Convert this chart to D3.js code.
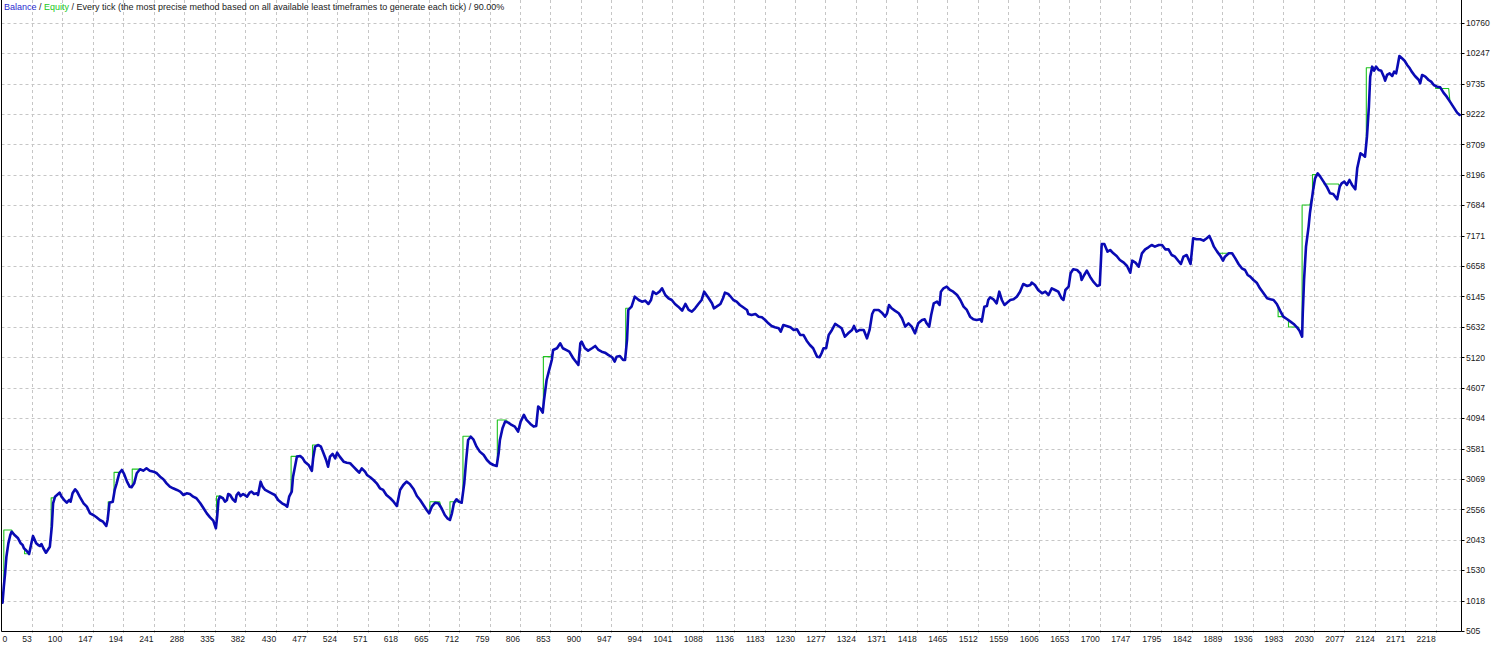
<!DOCTYPE html>
<html><head><meta charset="utf-8">
<script src="https://cdn.jsdelivr.net/npm/d3@7"></script>
<style>
html,body{margin:0;padding:0;background:#fff;overflow:hidden;}
svg{display:block;font-family:"Liberation Sans",Arial,sans-serif;}
</style></head><body>
<svg id="chart" width="1500" height="647"></svg>
<script>
// ---------------- DATA ----------------
const xTickLabels = [0,53,100,147,194,241,288,335,382,430,477,524,571,618,665,712,759,806,853,900,947,994,1041,1088,1136,1183,1230,1277,1324,1371,1418,1465,1512,1559,1606,1653,1700,1747,1795,1842,1889,1936,1983,2030,2077,2124,2171,2218];
const yTickLabels = [505,1018,1530,2043,2556,3069,3581,4094,4607,5120,5632,6145,6658,7171,7684,8196,8709,9222,9735,10247,10760];

const legendParts = [
  {text:"Balance", role:"balance"},
  {text:" / ", role:"plain"},
  {text:"Equity", role:"equity"},
  {text:" / Every tick (the most precise method based on all available least timeframes to generate each tick) / 90.00%", role:"plain"}
];

// balance: [trade number, balance]
const balance = [
[8,983],[10,1253],[12,1479],[14,1759],[17,1984],[20,2125],[22,2180],[27,2120],[32,2069],[36,1984],[39,1956],[41,1901],[45,1860],[49,1804],[53,2011],[55,2108],[60,1984],[63,1956],[66,1939],[68,1973],[71,1901],[75,1826],[79,1894],[81,1928],[84,2265],[86,2659],[89,2771],[92,2799],[96,2838],[99,2771],[104,2703],[107,2669],[111,2715],[113,2686],[116,2828],[120,2896],[123,2856],[127,2771],[133,2659],[138,2602],[143,2490],[148,2462],[153,2424],[158,2378],[163,2349],[168,2277],[170,2378],[173,2669],[178,2686],[181,2884],[184,2996],[188,3165],[192,3221],[195,3165],[200,3024],[204,2940],[207,2930],[211,2996],[215,3165],[220,3233],[225,3209],[230,3249],[235,3209],[241,3192],[246,3165],[251,3108],[256,3064],[261,2996],[266,2940],[271,2912],[277,2884],[282,2856],[287,2799],[292,2828],[297,2816],[302,2771],[307,2744],[313,2659],[318,2575],[323,2490],[328,2423],[333,2366],[337,2238],[339,2433],[341,2715],[343,2771],[348,2744],[351,2686],[354,2715],[356,2816],[359,2799],[363,2727],[367,2686],[369,2799],[372,2838],[375,2782],[379,2816],[385,2771],[389,2838],[392,2856],[396,2816],[400,2828],[402,2799],[406,3024],[409,2940],[413,2884],[418,2856],[423,2828],[428,2799],[433,2715],[439,2659],[444,2631],[447,2602],[450,2771],[454,2856],[456,3108],[462,3446],[467,3457],[471,3418],[474,3361],[480,3305],[485,3204],[487,3418],[490,3614],[495,3642],[499,3614],[503,3502],[507,3389],[510,3276],[513,3446],[517,3491],[521,3418],[524,3513],[528,3446],[534,3361],[539,3344],[544,3334],[549,3277],[554,3221],[558,3175],[562,3249],[567,3192],
[570,3137],[575,3098],[580,3052],[585,2996],[590,2912],[595,2884],[600,2799],[606,2744],[611,2686],[616,2614],[618,2715],[621,2884],[626,2968],[631,3024],[636,2985],[642,2895],[647,2782],[652,2715],[657,2631],[662,2546],[666,2490],[670,2602],[675,2669],[680,2659],[685,2575],[690,2462],[694,2406],[698,2378],[701,2490],[704,2659],[708,2727],[712,2686],[716,2669],[720,2996],[723,3389],[726,3727],[730,3782],[734,3738],[739,3614],[744,3530],[750,3474],[755,3389],[760,3334],[765,3305],[770,3288],[773,3502],[775,3727],[779,3924],[783,4036],[788,4019],[793,3980],[798,3952],[803,3867],[807,4036],[812,4149],[816,4064],[822,3997],[827,3952],[831,3963],[834,4289],[837,4261],[841,4187],[843,4401],[847,4738],[851,4907],[855,5075],[857,5244],[863,5273],[868,5357],[872,5273],[877,5244],[882,5215],[888,5104],[894,5019],[896,4991],[899,5357],[901,5384],[906,5273],[911,5232],[917,5273],[922,5311],[927,5244],[932,5215],[937,5198],[942,5160],[948,5121],[952,5047],[955,5131],[960,5143],[965,5075],[968,5075],[971,5412],[973,5918],[978,5974],[983,6143],[989,6086],[994,6058],[999,6075],[1004,6019],[1008,6086],[1011,6226],[1016,6188],[1021,6226],[1025,6283],[1030,6170],[1035,6115],[1040,6086],[1045,6019],[1050,5974],[1056,5906],[1061,6019],[1066,5918],[1071,5889],[1076,5946],[1081,6019],[1086,6086],[1090,6226],[1097,6115],[1102,6030],[1105,5946],[1109,5974],[1115,6019],[1119,6115],[1122,6210],[1127,6188],
[1130,6153],[1135,6086],[1140,6058],[1145,6002],[1150,5963],[1156,5918],[1158,5850],[1163,5833],[1169,5850],[1174,5805],[1179,5794],[1184,5749],[1189,5693],[1194,5648],[1199,5626],[1205,5609],[1208,5552],[1212,5665],[1217,5648],[1223,5626],[1228,5581],[1233,5593],[1238,5497],[1243,5497],[1248,5400],[1253,5328],[1258,5273],[1264,5131],[1268,5121],[1271,5188],[1274,5273],[1278,5273],[1282,5497],[1287,5581],[1292,5682],[1297,5648],[1302,5609],[1307,5468],[1312,5525],[1318,5581],[1321,5648],[1325,5552],[1330,5581],[1336,5581],[1341,5440],[1345,5581],[1349,5850],[1352,5918],[1359,5918],[1364,5872],[1369,5805],[1372,5862],[1375,6002],[1379,5946],[1384,5906],[1390,5862],[1395,5777],[1400,5637],[1405,5693],[1410,5637],[1415,5525],[1420,5693],[1426,5749],[1430,5761],[1433,5693],[1437,5637],[1440,5833],[1444,6030],[1449,6058],[1453,6002],[1455,6226],[1459,6283],[1464,6311],[1469,6255],[1474,6226],[1480,6170],[1485,6086],[1490,5974],[1495,5918],[1500,5805],[1505,5761],[1510,5749],[1516,5761],[1518,5721],[1522,5974],[1526,5985],[1528,6086],[1531,6132],[1536,6098],[1541,6030],[1545,6226],[1549,6086],[1553,6002],[1557,6041],[1562,6086],[1567,6098],[1572,6142],[1577,6226],[1582,6356],[1588,6322],[1593,6339],[1595,6378],[1600,6339],[1605,6255],[1611,6199],[1616,6226],[1621,6170],[1626,6283],[1631,6255],[1636,6226],[1641,6115],[1644,6086],[1647,6255],[1652,6311],[1655,6536],[1659,6603],[1665,6592],[1670,6536],[1672,6423],[1676,6508],[1680,6580],[1685,6479],[1690,6395],[1696,6322],[1700,6339],
[1703,7030],[1707,7030],[1712,6901],[1716,6929],[1721,6873],[1726,6828],[1731,6760],[1737,6715],[1742,6659],[1747,6546],[1750,6749],[1755,6715],[1760,6648],[1765,6873],[1770,6940],[1775,6974],[1780,7013],[1785,6985],[1791,7013],[1796,7013],[1801,6940],[1806,6940],[1811,6844],[1816,6816],[1820,6760],[1825,6693],[1829,6816],[1834,6844],[1840,6693],[1844,7126],[1849,7109],[1855,7109],[1860,7086],[1865,7126],[1869,7165],[1873,7069],[1876,6985],[1881,6901],[1886,6828],[1890,6749],[1893,6816],[1899,6873],[1904,6873],[1909,6788],[1914,6693],[1919,6620],[1924,6592],[1928,6508],[1932,6479],[1937,6423],[1942,6378],[1947,6283],[1952,6209],[1958,6115],[1963,6098],[1968,6086],[1973,6019],[1978,5906],[1983,5805],[1989,5761],[1994,5721],[1999,5682],[2004,5626],[2008,5569],[2012,5468],[2013,5862],[2015,6423],[2018,6985],[2022,7323],[2024,7547],[2029,7940],[2032,8137],[2036,8221],[2040,8165],[2045,8081],[2050,7996],[2055,7885],[2060,7873],[2066,7784],[2070,7996],[2073,8053],[2077,8081],[2081,8025],[2085,8109],[2089,8025],[2094,7952],[2097,8306],[2102,8559],[2106,8530],[2109,8502],[2112,8839],[2115,9345],[2117,9850],[2120,10019],[2123,9952],[2126,10019],[2130,9963],[2134,9951],[2138,9850],[2140,9783],[2143,9879],[2147,9907],[2151,9862],[2154,9935],[2157,9907],[2159,10019],[2162,10199],[2166,10160],[2170,10120],[2174,10047],[2178,9991],[2181,9935],[2186,9862],[2192,9794],[2194,9738],[2197,9879],[2202,9850],[2207,9794],[2211,9766],[2215,9710],[2220,9682],[2225,9671],[2230,9581],[2235,9513],[2240,9429],[2245,9345],[2251,9244],[2255,9205]
];

// equity differs from balance where it is held flat over a range of trades
const equityStepStart = [10,42,83,171,180,208,338,453,486,667,698,718,771,842,969,1885,1975,1991,2012,2028,2046,2111,2218];
const equityStepEnd   = [22,49,88,177,188,219,345,461,494,682,715,730,785,855,976,1900,1983,2006,2024,2035,2068,2119,2238];
const equityStepValue = [2209,1810,2750,2686,3180,3235,2780,3450,3642,2686,2686,3790,4064,5131,5946,6873,5805,5630,7688,8200,8040,10000,9650];

// ---------------- CHART ----------------
const svg = d3.select("#chart");
const W = 1500, H = 647;
const plot = {left:1.5, right:1461.5, top:0, bottom:631.5};

const x = d3.scaleLinear().domain([53, 2218]).range([31.7, 1435.7]);
const y = d3.scaleLinear().domain([505, 10760]).range([631.1, 22.7]);

svg.append("rect").attr("width", W).attr("height", H).attr("fill", "#ffffff");

const gridColor = "#c6c6c6";
// vertical grid
svg.append("g").selectAll("line").data(xTickLabels.filter(d => d > 0)).join("line")
  .attr("x1", d => Math.round(x(d)) + 0.5).attr("x2", d => Math.round(x(d)) + 0.5)
  .attr("y1", plot.top).attr("y2", plot.bottom + 3)
  .attr("stroke", gridColor).attr("stroke-width", 1).attr("stroke-dasharray", "3,3");
// horizontal grid
svg.append("g").selectAll("line").data(yTickLabels.filter(d => d > 505)).join("line")
  .attr("y1", d => Math.round(y(d)) + 0.5).attr("y2", d => Math.round(y(d)) + 0.5)
  .attr("x1", plot.left).attr("x2", plot.right)
  .attr("stroke", gridColor).attr("stroke-width", 1).attr("stroke-dasharray", "3,3");

// equity construction
const steps = equityStepStart.map((s, i) => ({s, e: equityStepEnd[i], v: equityStepValue[i]}));
function balAt(n) {
  for (let i = 1; i < balance.length; i++) {
    if (balance[i][0] >= n) {
      const [n0, v0] = balance[i - 1], [n1, v1] = balance[i];
      return v0 + (v1 - v0) * (n - n0) / (n1 - n0);
    }
  }
  return balance[balance.length - 1][1];
}
const equity = [];
let si = 0;
for (const p of balance) {
  while (si < steps.length && steps[si].s <= p[0]) {
    const st = steps[si];
    equity.push([st.s, balAt(st.s)], [st.s, st.v], [st.e, st.v]);
    si++;
  }
  if (!steps.some(st => p[0] >= st.s && p[0] <= st.e)) equity.push(p);
}

const line = d3.line().x(d => x(d[0])).y(d => y(d[1]));

svg.append("path").datum(equity).attr("d", line)
  .attr("fill", "none").attr("stroke", "#1fc41f").attr("stroke-width", 1.1)
  .attr("stroke-linejoin", "round");
svg.append("path").datum(balance).attr("d", line)
  .attr("fill", "none").attr("stroke", "#0a0ab4").attr("stroke-width", 2.6)
  .attr("stroke-linejoin", "round").attr("stroke-linecap", "round");

// axes frame
svg.append("line").attr("x1", plot.left).attr("x2", plot.left).attr("y1", 0).attr("y2", plot.bottom)
  .attr("stroke", "#000").attr("stroke-width", 1);
svg.append("line").attr("x1", plot.left).attr("x2", plot.right).attr("y1", plot.bottom).attr("y2", plot.bottom)
  .attr("stroke", "#000").attr("stroke-width", 1);
svg.append("line").attr("x1", plot.right).attr("x2", plot.right).attr("y1", 0).attr("y2", plot.bottom)
  .attr("stroke", "#000").attr("stroke-width", 1);

// right axis ticks & labels
const yAx = svg.append("g");
yAx.selectAll("line").data(yTickLabels).join("line")
  .attr("x1", plot.right).attr("x2", plot.right + 3)
  .attr("y1", d => Math.round(y(d)) + 0.5).attr("y2", d => Math.round(y(d)) + 0.5)
  .attr("stroke", "#000");
yAx.selectAll("text").data(yTickLabels).join("text")
  .attr("x", 1466).attr("y", d => y(d) + 3.2)
  .attr("font-size", "8.6px").attr("fill", "#1a1a1a")
  .text(d => d);

// bottom axis labels
const xAx = svg.append("g");
xAx.selectAll("text").data(xTickLabels).join("text")
  .attr("x", d => d === 0 ? 2.5 : x(d))
  .attr("y", 642)
  .attr("text-anchor", d => d === 0 ? "start" : "end")
  .attr("font-size", "8.6px").attr("fill", "#1a1a1a")
  .text(d => d);

// legend
const colors = {balance:"#2a2ad0", equity:"#22c822", plain:"#222222"};
const lg = svg.append("text").attr("x", 4).attr("y", 10).attr("font-size", "9px").attr("xml:space", "preserve");
lg.selectAll("tspan").data(legendParts).join("tspan")
  .attr("fill", d => colors[d.role]).text(d => d.text);
</script>
</body></html>
